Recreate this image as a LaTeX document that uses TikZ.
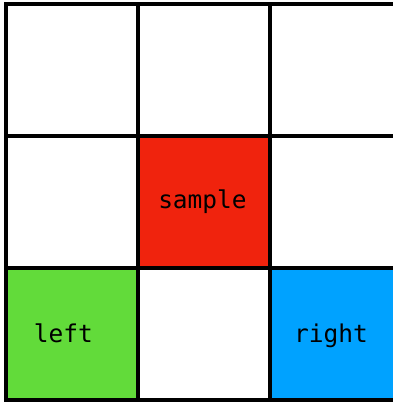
\documentclass[tikz,border=0pt]{standalone}
\usepackage{fontspec}
\newfontfamily\monofont{DejaVu Sans Mono}
\definecolor{cellred}{RGB}{240,35,13}
\definecolor{cellgreen}{RGB}{98,219,58}
\definecolor{cellblue}{RGB}{0,162,255}
\begin{document}
\begin{tikzpicture}[x=1pt,y=1pt,
  cell/.style={draw=black,line width=3.5pt,minimum size=132pt,inner sep=0pt,anchor=center},
  lbl/.style={font=\monofont\fontsize{24.5}{28}\selectfont,inner sep=0pt,anchor=base}]
\useasboundingbox (0,0) rectangle (393,402);
\clip (0,0) rectangle (393,402);
\node[cell] (c11) at (72,331.75) {};
\node[cell] (c12) at (204,331.75) {};
\node[cell] (c13) at (336,331.75) {};
\node[cell] (c21) at (72,200) {};
\node[cell,fill=cellred] (c22) at (204,200) {};
\node[cell] (c23) at (336,200) {};
\node[cell,fill=cellgreen] (c31) at (72,68) {};
\node[cell] (c32) at (204,68) {};
\node[cell,fill=cellblue] (c33) at (336,68) {};
\node[lbl] (tsample) at (202.5,193.5) {sample};
\node[lbl] (tleft) at (63.5,59.5) {left};
\node[lbl] (tright) at (331,59.5) {right};
\end{tikzpicture}
\end{document}
